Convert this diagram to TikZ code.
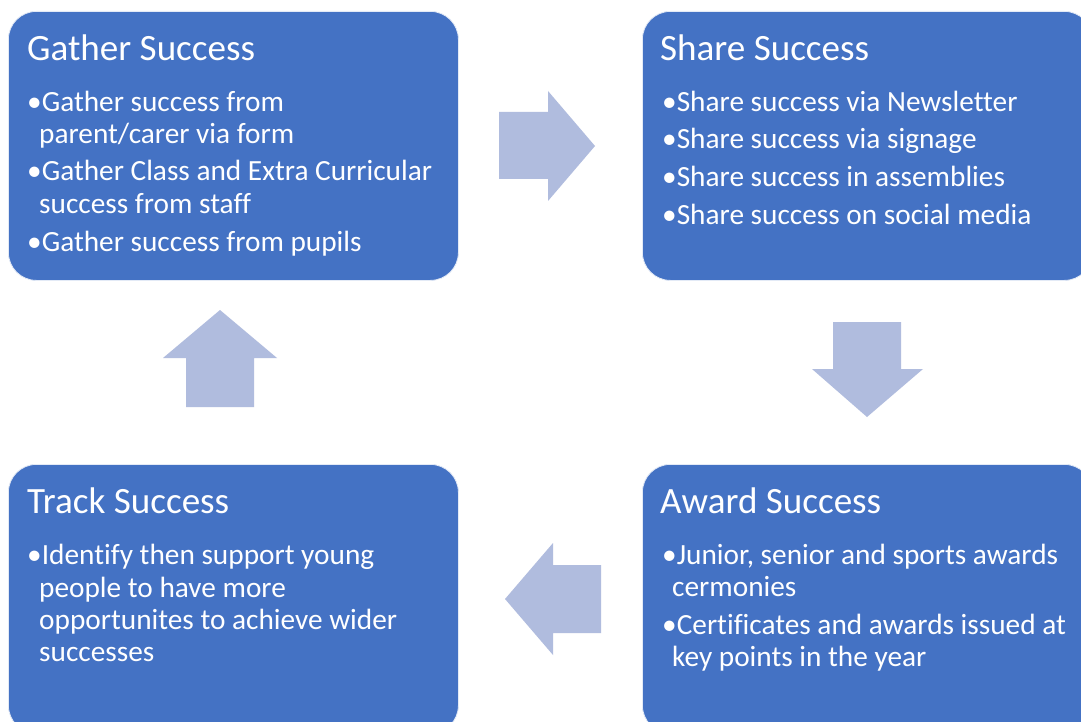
\documentclass[tikz,border=0pt]{standalone}
\usepackage{fontspec}
\setmainfont{Carlito}[Ligatures={NoCommon,NoContextual}]
\definecolor{boxblue}{RGB}{68,114,196}
\definecolor{arrowblue}{RGB}{176,188,222}
\tikzset{
  box/.style={rectangle, rounded corners=28pt, fill=boxblue, draw=white!85!boxblue, line width=0.8pt, anchor=north west, minimum width=450pt, minimum height=269pt, inner sep=0pt},
  ttl/.style={anchor=base west, inner sep=0pt, text=white, font=\fontsize{37.1}{37.1}\selectfont},
  txt/.style={anchor=base west, inner sep=0pt, text=white, font=\fontsize{29.3}{29.3}\selectfont},
  blockarrow/.style={fill=arrowblue, draw=none}
}
\begin{document}
\begin{tikzpicture}[x=1pt,y=-1pt]
\useasboundingbox (0,0) rectangle (1081,722);
\clip (0,0) rectangle (1081,722);
\fill[white] (0,0) rectangle (1081,722);
% boxes
\node[box] (gather) at (8,11) {};
\node[box] (share) at (642,11) {};
\node[box] (track) at (8,464) {};
\node[box] (award) at (642,464) {};
% block arrows
\path[blockarrow] (499,112) -- (548,112) -- (548,91) -- (595,146) -- (548,201) -- (548,179) -- (499,179) -- cycle;
\path[blockarrow] (833,322) -- (901,322) -- (901,369) -- (923,369) -- (867,417) -- (812,369) -- (833,369) -- cycle;
\path[blockarrow] (601,565) -- (553,565) -- (553,543) -- (505,599) -- (553,655) -- (553,633) -- (601,633) -- cycle;
\path[blockarrow] (186,407) -- (186,358) -- (163,358) -- (220,310) -- (277,358) -- (254,358) -- (254,407) -- cycle;
% Gather
\node[ttl] (gt) at (27,61) {Gather Success};
\node[txt] (g1) at (27,112) {•Gather success from};
\node[txt] (g2) at (39,144) {parent/carer via form};
\node[txt] (g3) at (27,181) {•Gather Class and Extra Curricular};
\node[txt] (g4) at (39,213) {success from staff};
\node[txt] (g5) at (27,251) {•Gather success from pupils};
% Share
\node[ttl] (st) at (660,61) {Share Success};
\node[txt] (s1) at (662,112) {•Share success via Newsletter};
\node[txt] (s2) at (662,149) {•Share success via signage};
\node[txt] (s3) at (662,187) {•Share success in assemblies};
\node[txt] (s4) at (662,224) {•Share success on social media};
% Track
\node[ttl] (tt) at (27,513) {Track Success};
\node[txt] (t1) at (27,564) {•Identify then support young};
\node[txt] (t2) at (39,597) {people to have more};
\node[txt] (t3) at (39,629) {opportunites to achieve wider};
\node[txt] (t4) at (39,661) {successes};
% Award
\node[ttl] (at) at (660,513) {Award Success};
\node[txt] (a1) at (662,564) {•Junior, senior and sports awards};
\node[txt] (a2) at (672,596) {cermonies};
\node[txt] (a3) at (662,634) {•Certificates and awards issued at};
\node[txt] (a4) at (672,666) {key points in the year};
\end{tikzpicture}
\end{document}
